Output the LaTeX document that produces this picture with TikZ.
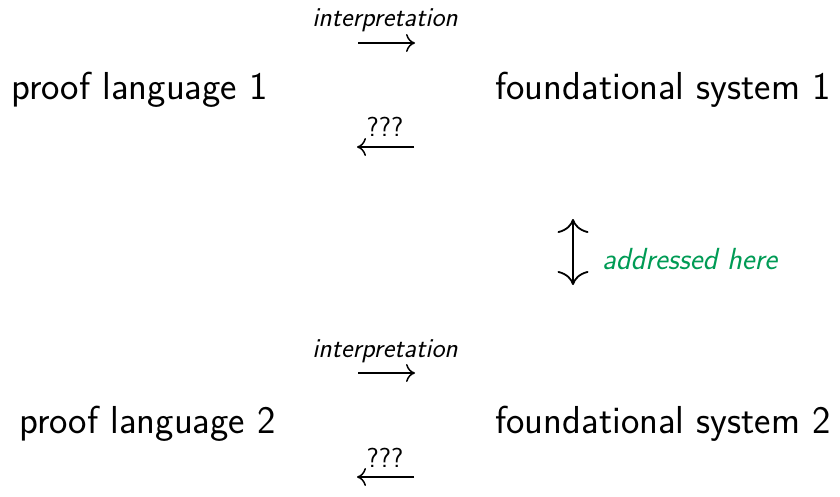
\documentclass[tikz,border=0pt]{standalone}
\usepackage{fontspec}
\usetikzlibrary{arrows.meta}
\definecolor{notegreen}{RGB}{0,155,85}
\tikzset{
  term/.style={inner sep=0pt, font=\sffamily\fontsize{39}{47}\selectfont},
  lbl/.style={inner sep=0pt, anchor=base, font=\sffamily\itshape\fontsize{27.5}{33}\selectfont},
  qlbl/.style={inner sep=0pt, anchor=base, font=\sffamily\fontsize{27.5}{33}\selectfont},
  note/.style={inner sep=0pt, anchor=base west, text=notegreen, font=\sffamily\itshape\fontsize{30.5}{36}\selectfont},
  maparrow/.style={line width=1.5pt, -{Computer Modern Rightarrow[length=9pt,width=18pt]}},
  bothways/.style={line width=1.8pt, {Computer Modern Rightarrow[length=14pt,width=31pt]}-{Computer Modern Rightarrow[length=14pt,width=31pt]}},
}
\begin{document}
\begin{tikzpicture}[x=1pt,y=-1pt]
\useasboundingbox (0,0) rectangle (840,497);

% first pair
\node[term, anchor=base west] (p1) at (11,100) {proof language 1};
\node[term, anchor=base east] (f1) at (831,100) {foundational system 1};
\coordinate (i1s) at (358,43); \coordinate (i1e) at (415,43);
\coordinate (q1s) at (414,147); \coordinate (q1e) at (357,147);
\node[lbl] (i1) at (385,27) {interpretation};
\node[qlbl] (q1) at (385,137) {???};
\draw[maparrow] (i1s) -- (i1e);
\draw[maparrow] (q1s) -- (q1e);

% link between the two foundational systems
\coordinate (vt) at (573,219); \coordinate (vb) at (573,285);
\draw[bothways] (vt) -- (vb);
\node[note] (addr) at (602,269) {addressed here};

% second pair
\node[term, anchor=base west] (p2) at (19,433) {proof language 2};
\node[term, anchor=base east] (f2) at (831,433) {foundational system 2};
\coordinate (i2s) at (358,373); \coordinate (i2e) at (415,373);
\coordinate (q2s) at (414,477); \coordinate (q2e) at (357,477);
\node[lbl] (i2) at (385,357) {interpretation};
\node[qlbl] (q2) at (385,467) {???};
\draw[maparrow] (i2s) -- (i2e);
\draw[maparrow] (q2s) -- (q2e);
\end{tikzpicture}
\end{document}
